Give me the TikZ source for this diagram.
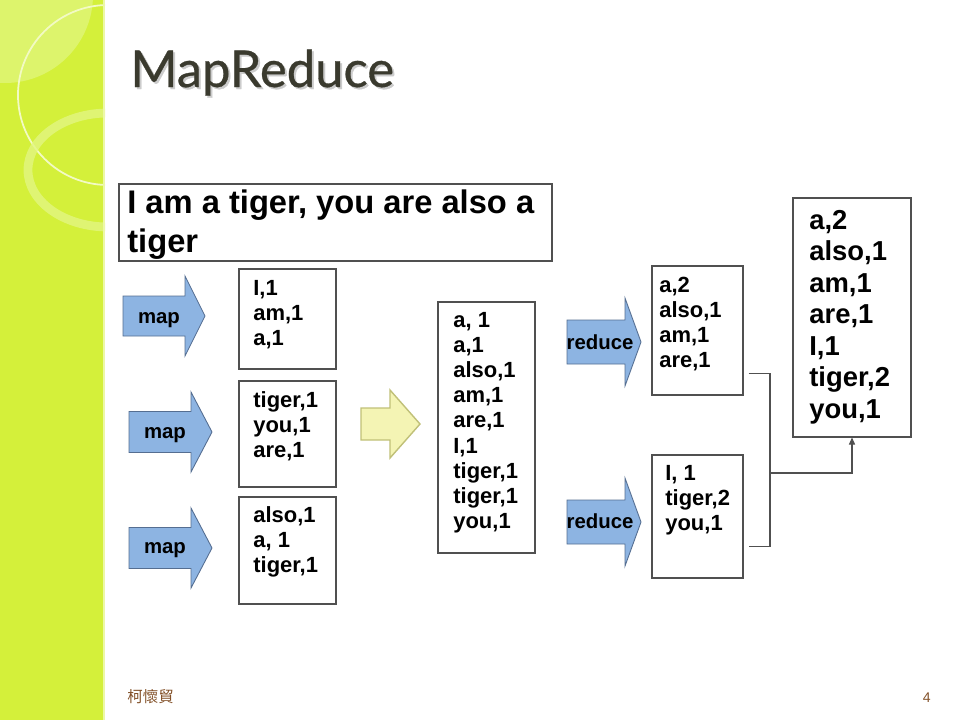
\documentclass[tikz,border=0pt]{standalone}
\usepackage{fontspec}
\setmainfont{Liberation Sans}
\newfontfamily\titlefont[FakeBold=0.6]{Lato}
\newfontfamily\cjkfont{Noto Sans CJK TC}
\usetikzlibrary{fit,arrows.meta}
\definecolor{stripgreen}{RGB}{212,240,58}
\definecolor{striplight}{RGB}{226,246,130}
\definecolor{mapblue}{RGB}{141,180,226}
\definecolor{mapedge}{RGB}{85,110,145}
\definecolor{mergeyellow}{RGB}{244,244,180}
\definecolor{mergeedge}{RGB}{192,192,120}
\definecolor{boxgray}{RGB}{80,80,80}
\definecolor{titlegray}{RGB}{58,58,46}
\definecolor{footbrown}{RGB}{130,80,40}
% tail x, y, body length, half body, head length, half head
\newcommand{\fatarrow}[7]{\draw[#1] (#2,#3-#5) -- (#2+#4,#3-#5) -- (#2+#4,#3-#7) -- (#2+#4+#6,#3) -- (#2+#4,#3+#7) -- (#2+#4,#3+#5) -- (#2,#3+#5) -- cycle;}
\tikzset{
  box/.style={draw=boxgray,line width=0.6pt,inner sep=0pt},
  item/.style={anchor=base west,inner sep=0pt,font=\fontsize{12.5}{15}\selectfont\bfseries},
  bigitem/.style={item,font=\fontsize{15.6}{18}\selectfont\bfseries},
  tag/.style={anchor=base,inner sep=0pt,font=\fontsize{11.6}{14}\selectfont\bfseries},
  maparrow/.style={fill=mapblue,draw=mapedge,line width=0.5pt},
  mergearrow/.style={fill=mergeyellow,draw=mergeedge,line width=0.8pt},
  link/.style={draw=boxgray,line width=0.6pt}
}
\begin{document}
\begin{tikzpicture}[x=0.02cm,y=-0.02cm,line join=miter]
\useasboundingbox (0,0) rectangle (960,720);
% side strip
\fill[stripgreen] (0,0) rectangle (105,720);
\begin{scope}
  \clip (0,0) rectangle (105,720);
  \fill[striplight,opacity=.7] (5,-5) circle (88);
  \draw[white!70!stripgreen,line width=1pt] (108,95) circle (90);
  \draw[striplight,line width=5pt,opacity=.8] (108,170) ellipse (80 and 57);
\end{scope}
\draw[white!55!stripgreen,line width=1pt] (104,0) -- (104,720);
% title
\node[anchor=base west,inner sep=0pt,text=black!20,font=\titlefont\fontsize{28.9}{32}\selectfont] at (132,89) {MapReduce};
\node[anchor=base west,inner sep=0pt,text=titlegray,font=\titlefont\fontsize{28.9}{32}\selectfont] (title) at (130,87) {MapReduce};
% input sentence
\node[box,fit={(119,184) (552,261)}] (sent) {};
\node[anchor=base west,inner sep=0pt,font=\fontsize{18.6}{22}\selectfont\bfseries] (s1) at (127,213) {I am a tiger, you are also a};
\node[anchor=base west,inner sep=0pt,font=\fontsize{18.6}{22}\selectfont\bfseries] (s2) at (127,252) {tiger};
% map step
\fatarrow{maparrow}{123}{316}{62}{20}{20}{40}
\fatarrow{maparrow}{129}{432}{62}{20.5}{21}{40}
\fatarrow{maparrow}{129}{548}{62}{20.5}{21}{40}
\node[tag] (map1) at (159,323) {map};
\node[tag] (map2) at (165,438) {map};
\node[tag] (map3) at (165,553) {map};
\node[box,fit={(239,269) (336,369)}] (m1) {};
\node[box,fit={(239,381) (336,487)}] (m2) {};
\node[box,fit={(239,497) (336,604)}] (m3) {};
\foreach \w [count=\i] in {{I,1},{am,1},{a,1}}
  \node[item] (m1-\i) at (253,270+25*\i) {\w};
\foreach \w [count=\i] in {{tiger,1},{you,1},{are,1}}
  \node[item] (m2-\i) at (253,382+25*\i) {\w};
\foreach \w [count=\i] in {{also,1},{a, 1},{tiger,1}}
  \node[item] (m3-\i) at (253,497+25*\i) {\w};
% shuffle
\fatarrow{mergearrow}{361}{424}{29}{16}{30}{34}
\node[box,fit={(438,302) (535,553)}] (sorted) {};
\foreach \w [count=\i] in {{a, 1},{a,1},{also,1},{am,1},{are,1},{I,1},{tiger,1},{tiger,1},{you,1}}
  \node[item] (s-\i) at (453,301.8+25.2*\i) {\w};
% reduce step
\fatarrow{maparrow}{567}{342}{58}{22}{16}{44}
\fatarrow{maparrow}{567}{522}{58}{22}{16}{44}
\node[tag] (red1) at (600,349) {reduce};
\node[tag] (red2) at (600,528) {reduce};
\node[box,fit={(652,266) (743,395)}] (rt) {};
\node[box,fit={(652,455) (743,578)}] (rb) {};
\foreach \w [count=\i] in {{a,2},{also,1},{am,1},{are,1}}
  \node[item] (rt-\i) at (659,267+25*\i) {\w};
\foreach \w [count=\i] in {{I, 1},{tiger,2},{you,1}}
  \node[item] (rb-\i) at (665,455+25*\i) {\w};
% result
\node[box,fit={(793,198) (911,437)}] (res) {};
\foreach \w [count=\i] in {{a,2},{also,1},{am,1},{are,1},{I,1},{tiger,2},{you,1}}
  \node[bigitem] (res-\i) at (809,197.5+31.5*\i) {\w};
\coordinate (jn) at (770,473);
\draw[link] ([shift={(5,-22)}]rt.south east) -| (jn) |- ([shift={(5,-32)}]rb.south east);
\draw[link,-{Triangle[length=4pt,width=3.5pt]}] (jn) -| (res.south);
% footer
\node[anchor=base west,inner sep=0pt,text=footbrown,font=\cjkfont\fontsize{8.8}{10}\selectfont] (author) at (127,702) {柯懷貿};
\node[anchor=base east,inner sep=0pt,text=footbrown,font=\fontsize{8}{10}\selectfont] (page) at (931,702) {4};
\end{tikzpicture}
\end{document}
